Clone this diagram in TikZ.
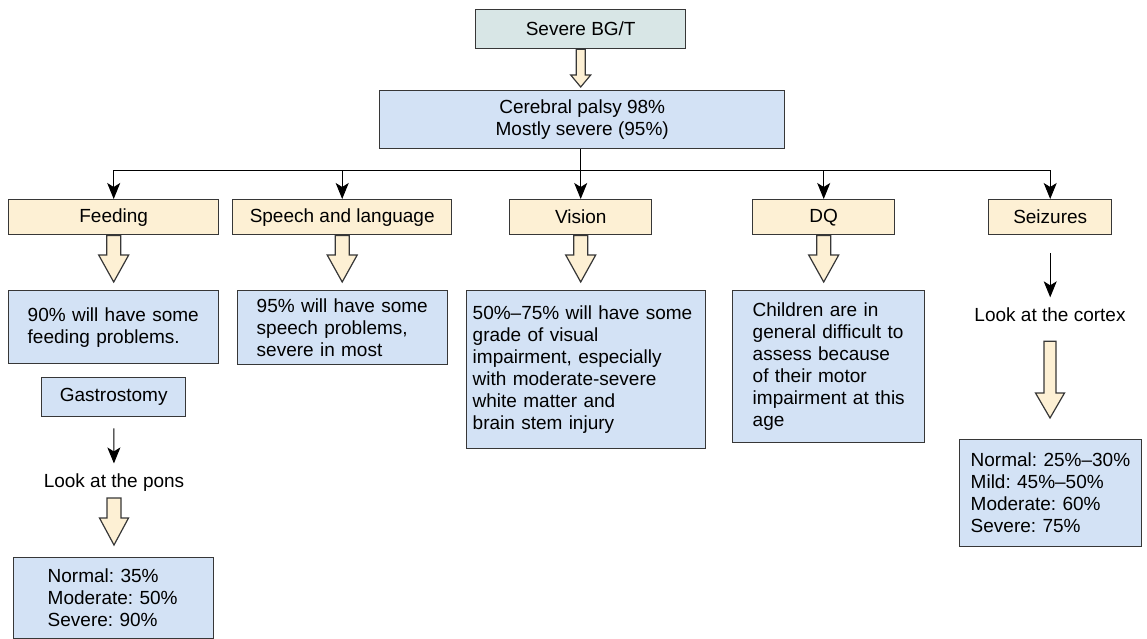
\documentclass[tikz,border=0pt]{standalone}
\usepackage{fontspec}
\setmainfont{Liberation Sans}
\usetikzlibrary{arrows.meta,calc}
\frenchspacing

\definecolor{headfill}{RGB}{216,230,230}
\definecolor{bluefill}{RGB}{211,226,245}
\definecolor{yellowfill}{RGB}{253,240,212}
\definecolor{edgegray}{RGB}{55,55,55}

% wide hollow arrow: shaft half width, head half width, head length, from, to
\newcommand{\blockarrow}[5]{%
  \path (#4) coordinate (ba-from) (#5) coordinate (ba-to);
  \filldraw[hollow] let \p1=(ba-from), \p2=(ba-to) in
    (\x1-#1pt,\y1) -- (\x1-#1pt,\y2+#3pt) -- (\x1-#2pt,\y2+#3pt) -- (\x1,\y2)
    -- (\x1+#2pt,\y2+#3pt) -- (\x1+#1pt,\y2+#3pt) -- (\x1+#1pt,\y1) -- cycle;}

\begin{document}
\begin{tikzpicture}[x=1pt,y=-1pt,>={Stealth[length=16pt,width=13pt,inset=4pt]},
    font=\fontsize{19}{22}\selectfont,
    box/.style={draw=edgegray, line width=1.4pt, rectangle, anchor=north west, inner sep=0pt},
    headbox/.style={box, fill=headfill},
    topicbox/.style={box, fill=yellowfill},
    infobox/.style={box, fill=bluefill, align=left},
    hollow/.style={draw=edgegray, line width=1.2pt, fill=yellowfill},
    pointer/.style={->, line width=1pt, draw=black}]
    \useasboundingbox (0,0) rectangle (1147,639);

    \node (sev) [headbox, minimum width=210, minimum height=39] at (475,9) {Severe BG/T};
    \node (cp) [box, fill=bluefill, align=center, minimum width=405, minimum height=58] at (379,90)
        {Cerebral palsy 98\%\\Mostly severe (95\%)};

    % second row
    \node (feed) [topicbox, minimum width=210, minimum height=35] at (8,199) {Feeding};
    \node (speech) [topicbox, minimum width=219, minimum height=35] at (232,199) {Speech and language};
    \node (vision) [topicbox, minimum width=142, minimum height=35] at (509,199) {Vision};
    \node (dq) [topicbox, minimum width=142, minimum height=35] at (752,199) {DQ};
    \node (seiz) [topicbox, minimum width=123, minimum height=35] at (988,199) {Seizures};

    % findings
    \node (feedtxt) [infobox, text width=172, inner xsep=19, minimum height=73] at (8,290)
        {90\% will have some\\feeding problems.};
    \node (gast) [box, fill=bluefill, minimum width=144, minimum height=39] at (41,377) {Gastrostomy};
    \node (pons) [inner sep=0pt] at (114,482.5) {Look at the pons};
    \node (ponsres) [infobox, text width=150, inner xsep=25, minimum height=81] at (13,557)
        {\hspace*{9pt}Normal: 35\%\\\hspace*{9pt}Moderate: 50\%\\\hspace*{9pt}Severe: 90\%};
    \node (speechtxt) [infobox, text width=172, inner xsep=19, minimum height=74] at (237,290)
        {95\% will have some\\speech problems,\\severe in most};
    \node (visiontxt) [infobox, text width=227, inner xsep=6, minimum height=158] at (466,290)
        {50\%–75\% will have some\\grade of visual\\impairment, especially\\with moderate-severe\\white matter and\\brain stem injury};
    \node (dqtxt) [infobox, text width=160, inner xsep=16, minimum height=152] at (732,290)
        {\hspace*{4pt}Children are in\\\hspace*{4pt}general difficult to\\\hspace*{4pt}assess because\\\hspace*{4pt}of their motor\\\hspace*{4pt}impairment at this\\\hspace*{4pt}age};
    \node (cortex) [inner sep=0pt] at (1050,314.5) {Look at the cortex};
    \node (seiztxt) [infobox, text width=166, inner xsep=8, minimum height=107] at (959,439)
        {\hspace*{3pt}Normal: 25\%–30\%\\\hspace*{3pt}Mild: 45\%–50\%\\\hspace*{3pt}Moderate: 60\%\\\hspace*{3pt}Severe: 75\%};

    % tree from cerebral palsy
    \coordinate (hub) at ($(vision.north |- cp.south)+(0,21)$);
    \draw[line width=1pt] (vision.north |- cp.south) -- (hub);
    \draw[line width=1pt] (hub -| feed.north) -- (hub -| seiz.north);
    \foreach \n in {feed,speech,vision,dq,seiz}
        \draw[pointer] (hub -| \n.north) -- (\n.north);

    % hollow arrows
    \blockarrow{4.5}{10}{12}{sev.south}{$(cp.north)+(0,-3)$}
    \foreach \n in {feed,speech,vision,dq}{
        \blockarrow{7}{15}{27}{\n.south}{$(\n txt.north)+(0,-8)$}
    }
    \blockarrow{7}{14.5}{27}{$(pons.south)+(0,6.5)$}{$(ponsres.north)+(0,-12)$}
    \blockarrow{6}{14.5}{25}{$(cortex.south)+(0,19.5)$}{$(seiztxt.north)+(0,-21)$}

    \draw[pointer, shorten <=11pt, shorten >=10pt] (gast.south) -- (pons.north);
    \draw[pointer, shorten <=18pt, shorten >=10pt] (seiz.south) -- (seiz.south |- cortex.north);
\end{tikzpicture}
\end{document}
